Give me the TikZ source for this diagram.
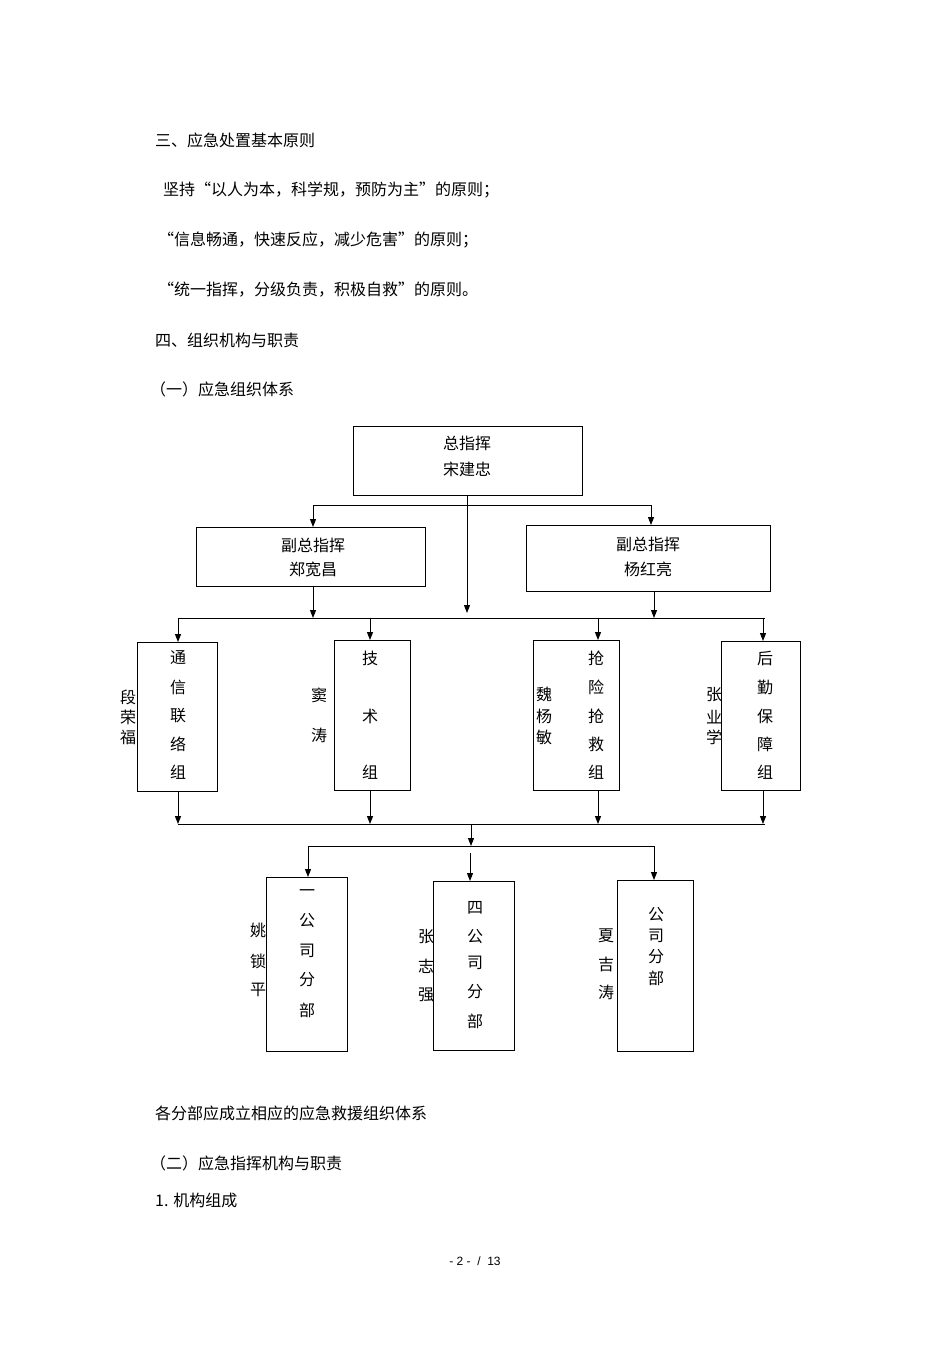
\documentclass[tikz,border=0pt]{standalone}
\usepackage{fontspec}
\setmainfont{Liberation Sans}
\newfontfamily\cjk{Noto Sans CJK SC}
\usetikzlibrary{arrows.meta}
\begin{document}
\begin{tikzpicture}[x=1pt,y=-1pt,
  txt/.style={font=\cjk\fontsize{16}{19}\selectfont,inner sep=0pt},
  bx/.style={draw,line width=1pt},
  ln/.style={line width=1pt},
  ar/.style={line width=1pt,-{Triangle[length=8pt,width=6pt]}}]
\useasboundingbox (0,0) rectangle (950,1345);
% texts
\node[txt,anchor=west] (t1) at (155,140) {三、应急处置基本原则};
\node[txt,anchor=west] (t2) at (163,190) {坚持“以人为本，科学规，预防为主”的原则；};
\node[txt,anchor=west] (t3) at (158,240) {“信息畅通，快速反应，减少危害”的原则；};
\node[txt,anchor=west] (t4) at (158,290) {“统一指挥，分级负责，积极自救”的原则。};
\node[txt,anchor=west] (t5) at (155,340) {四、组织机构与职责};
\node[txt,anchor=west] (t6) at (150,389) {（一）应急组织体系};
\node[txt,anchor=west] (t7) at (155,1113) {各分部应成立相应的应急救援组织体系};
\node[txt,anchor=west] (t8) at (150,1163) {（二）应急指挥机构与职责};
\node[txt,anchor=west] (t9) at (155,1200) {1. 机构组成};
\node[txt,font=\fontsize{12}{14}\selectfont] (ft) at (475,1261) {- 2 -\ \ /\ \ 13};
% boxes
\draw[bx] (353,426) rectangle (582,495);
\node[txt] at (467,443) {总指挥}; \node[txt] at (467,469) {宋建忠};
\draw[bx] (196,527) rectangle (425,586);
\node[txt] at (313,545) {副总指挥}; \node[txt] at (313,569) {郑宽昌};
\draw[bx] (526,525) rectangle (770,591);
\node[txt] at (648,544) {副总指挥}; \node[txt] at (648,569) {杨红亮};
% top connectors
\coordinate (top) at (467,495);
\draw[ln] (313,505) -- (651,505);
\draw[ar] (313,505) -- (313,527);
\draw[ar] (651,505) -- (651,525);
\draw[ar] (top) -- (467,613);
\draw[ar] (313,586) -- (313,618);
\draw[ar] (654,591) -- (654,618);
\draw[ln] (178,618) -- (765,618);
\draw[ar] (178,618) -- (178,642);
\draw[ar] (370,618) -- (370,640);
\draw[ar] (598,618) -- (598,640);
\draw[ar] (763,618) -- (763,641);
% group boxes
\draw[bx] (137,642) rectangle (217,791);
\draw[bx] (334,640) rectangle (410,790);
\draw[bx] (533,640) rectangle (619,790);
\draw[bx] (721,641) rectangle (800,790);
\foreach \c/\y in {通/658,信/687,联/716,络/744,组/772} \node[txt] at (178,\y) {\c};
\foreach \c/\y in {技/658,术/716,组/772} \node[txt] at (370,\y) {\c};
\foreach \c/\y in {抢/658,险/687,抢/716,救/744,组/772} \node[txt] at (596,\y) {\c};
\foreach \c/\y in {后/658,勤/687,保/716,障/744,组/772} \node[txt] at (765,\y) {\c};
\foreach \c/\y in {段/697,荣/717,福/737} \node[txt] at (128,\y) {\c};
\foreach \c/\y in {窦/695,涛/735} \node[txt] at (319,\y) {\c};
\foreach \c/\y in {魏/694,杨/716,敏/737} \node[txt] at (544,\y) {\c};
\foreach \c/\y in {张/695,业/717,学/737} \node[txt] at (714,\y) {\c};
% lower connectors
\draw[ar] (178,791) -- (178,824);
\draw[ar] (370,790) -- (370,824);
\draw[ar] (598,790) -- (598,824);
\draw[ar] (763,790) -- (763,824);
\draw[ln] (178,824) -- (765,824);
\draw[ar] (471,824) -- (471,846);
\draw[ln] (308,846) -- (655,846);
\draw[ar] (308,846) -- (308,877);
\draw[ar] (470,853) -- (470,881);
\draw[ar] (654,846) -- (654,880);
% branch boxes
\draw[bx] (266,877) rectangle (347,1051);
\draw[bx] (433,881) rectangle (514,1050);
\draw[bx] (617,880) rectangle (693,1051);
\foreach \c/\y in {一/893,公/921,司/951,分/980,部/1010} \node[txt] at (307,\y) {\c};
\foreach \c/\y in {四/908,公/937,司/963,分/992,部/1021} \node[txt] at (475,\y) {\c};
\foreach \c/\y in {公/915,司/936,分/957,部/978} \node[txt] at (656,\y) {\c};
\foreach \c/\y in {姚/930,锁/961,平/990} \node[txt] at (258,\y) {\c};
\foreach \c/\y in {张/937,志/966,强/995} \node[txt] at (426,\y) {\c};
\foreach \c/\y in {夏/936,吉/964,涛/992} \node[txt] at (606,\y) {\c};
\end{tikzpicture}
\end{document}
